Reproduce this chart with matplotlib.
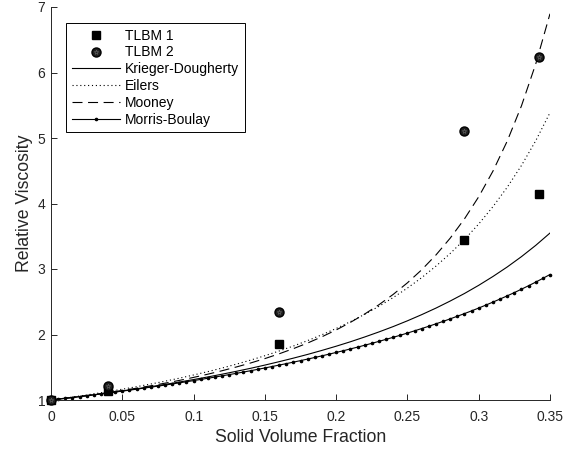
import numpy as np
import matplotlib
matplotlib.use("Agg")
import matplotlib.pyplot as plt

plt.rcParams['font.family'] = ['Liberation Sans', 'DejaVu Sans']

# measured points
phi_pts = [0.0, 0.04, 0.16, 0.29, 0.342]
tlbm1 = [1.0, 1.14, 1.86, 3.45, 4.14]
tlbm2 = [1.0, 1.21, 2.34, 5.10, 6.24]

# model curves, every 0.01
phi_curve = np.round(np.arange(36) * 0.01, 3)
krieger = [1.000, 1.026, 1.052, 1.080, 1.109, 1.139, 1.171, 1.204, 1.238, 1.274,
           1.312, 1.352, 1.394, 1.438, 1.484, 1.533, 1.585, 1.639, 1.696, 1.757,
           1.821, 1.889, 1.962, 2.039, 2.121, 2.209, 2.303, 2.403, 2.511, 2.626,
           2.751, 2.886, 3.031, 3.189, 3.361, 3.549]
eilers = [1.000, 1.030, 1.061, 1.094, 1.128, 1.165, 1.203, 1.244, 1.287, 1.333,
          1.382, 1.433, 1.488, 1.547, 1.609, 1.676, 1.748, 1.824, 1.907, 1.996,
          2.092, 2.196, 2.308, 2.430, 2.564, 2.709, 2.868, 3.044, 3.237, 3.450,
          3.687, 3.952, 4.248, 4.581, 4.958, 5.387]
mooney = [1.000, 1.026, 1.053, 1.082, 1.113, 1.145, 1.180, 1.217, 1.257, 1.299,
          1.345, 1.394, 1.447, 1.504, 1.565, 1.632, 1.705, 1.784, 1.870, 1.965,
          2.069, 2.185, 2.312, 2.454, 2.612, 2.789, 2.988, 3.214, 3.471, 3.765,
          4.103, 4.495, 4.953, 5.492, 6.131, 6.897]

# Morris-Boulay, every 0.005 (dense markers)
phi_mb = np.round(np.arange(71) * 0.005, 3)
morris = [1.000, 1.013, 1.025, 1.038, 1.052, 1.065, 1.079, 1.093, 1.107, 1.121,
          1.136, 1.150, 1.165, 1.181, 1.196, 1.212, 1.228, 1.245, 1.262, 1.279,
          1.296, 1.314, 1.332, 1.350, 1.369, 1.388, 1.407, 1.427, 1.447, 1.468,
          1.489, 1.511, 1.533, 1.555, 1.578, 1.601, 1.625, 1.649, 1.674, 1.700,
          1.726, 1.752, 1.780, 1.807, 1.836, 1.865, 1.895, 1.926, 1.957, 1.989,
          2.022, 2.056, 2.091, 2.126, 2.163, 2.200, 2.239, 2.279, 2.319, 2.361,
          2.404, 2.449, 2.495, 2.542, 2.590, 2.640, 2.692, 2.745, 2.800, 2.857,
          2.916]

xticks = [0, 0.05, 0.1, 0.15, 0.2, 0.25, 0.3, 0.35]
xtick_labels = ["0", "0.05", "0.1", "0.15", "0.2", "0.25", "0.3", "0.35"]
yticks = [1, 2, 3, 4, 5, 6, 7]

fig = plt.figure(figsize=(5.76, 4.54), dpi=100)
ax = fig.add_axes([51 / 576, 1 - 400 / 454, 499 / 576, 393 / 454])

axc = '0.15'
lw = 0.8

h1, = ax.plot(phi_pts, tlbm1, linestyle='none', marker='s', markersize=6,
              color='black', clip_on=False, zorder=5)
h2a, = ax.plot(phi_pts, tlbm2, linestyle='none', marker='o', markersize=6.5,
               markerfacecolor='0.12', markeredgecolor='black', clip_on=False, zorder=5)
h2b, = ax.plot(phi_pts, tlbm2, linestyle='none', marker='*', markersize=3.5,
               markerfacecolor='none', markeredgecolor='0.4', markeredgewidth=0.4,
               clip_on=False, zorder=6)
h3, = ax.plot(phi_curve, krieger, color='black', lw=lw)
h4, = ax.plot(phi_curve, eilers, color='black', lw=lw, linestyle=(0, (1, 2.5)))
h5, = ax.plot(phi_curve, mooney, color='black', lw=lw, linestyle=(0, (9, 5)))
h6, = ax.plot(phi_mb, morris, color='black', lw=lw, marker='.', markersize=3.2,
              clip_on=False)

ax.set_xlim(0, 0.35)
ax.set_ylim(1, 7)
ax.set_xticks(xticks)
ax.set_xticklabels(xtick_labels)
ax.set_yticks(yticks)

for s in ['top', 'right']:
    ax.spines[s].set_visible(False)
for s in ['left', 'bottom']:
    ax.spines[s].set_color(axc)
    ax.spines[s].set_linewidth(0.7)

ax.tick_params(direction='in', length=4.5, width=0.7, color=axc,
               labelcolor=axc, labelsize=10)
ax.tick_params(axis='x', pad=7)
ax.tick_params(axis='y', pad=4)

ax.set_xlabel("Solid Volume Fraction", fontsize=12.7, color=axc, labelpad=4)
ax.set_ylabel("Relative Viscosity", fontsize=12.7, color=axc, labelpad=3)

leg = ax.legend([h1, (h2a, h2b), h3, h4, h5, h6],
                ["TLBM 1", "TLBM 2", "Krieger-Dougherty", "Eilers", "Mooney", "Morris-Boulay"],
                loc='upper left', bbox_to_anchor=(0.03, 0.959), borderaxespad=0,
                fancybox=False, edgecolor='black', framealpha=1,
                fontsize=10, handlelength=3.5, handletextpad=0.35,
                labelspacing=0.2, borderpad=0.4)
leg.get_frame().set_linewidth(0.7)

plt.savefig("out.png", dpi=100)
